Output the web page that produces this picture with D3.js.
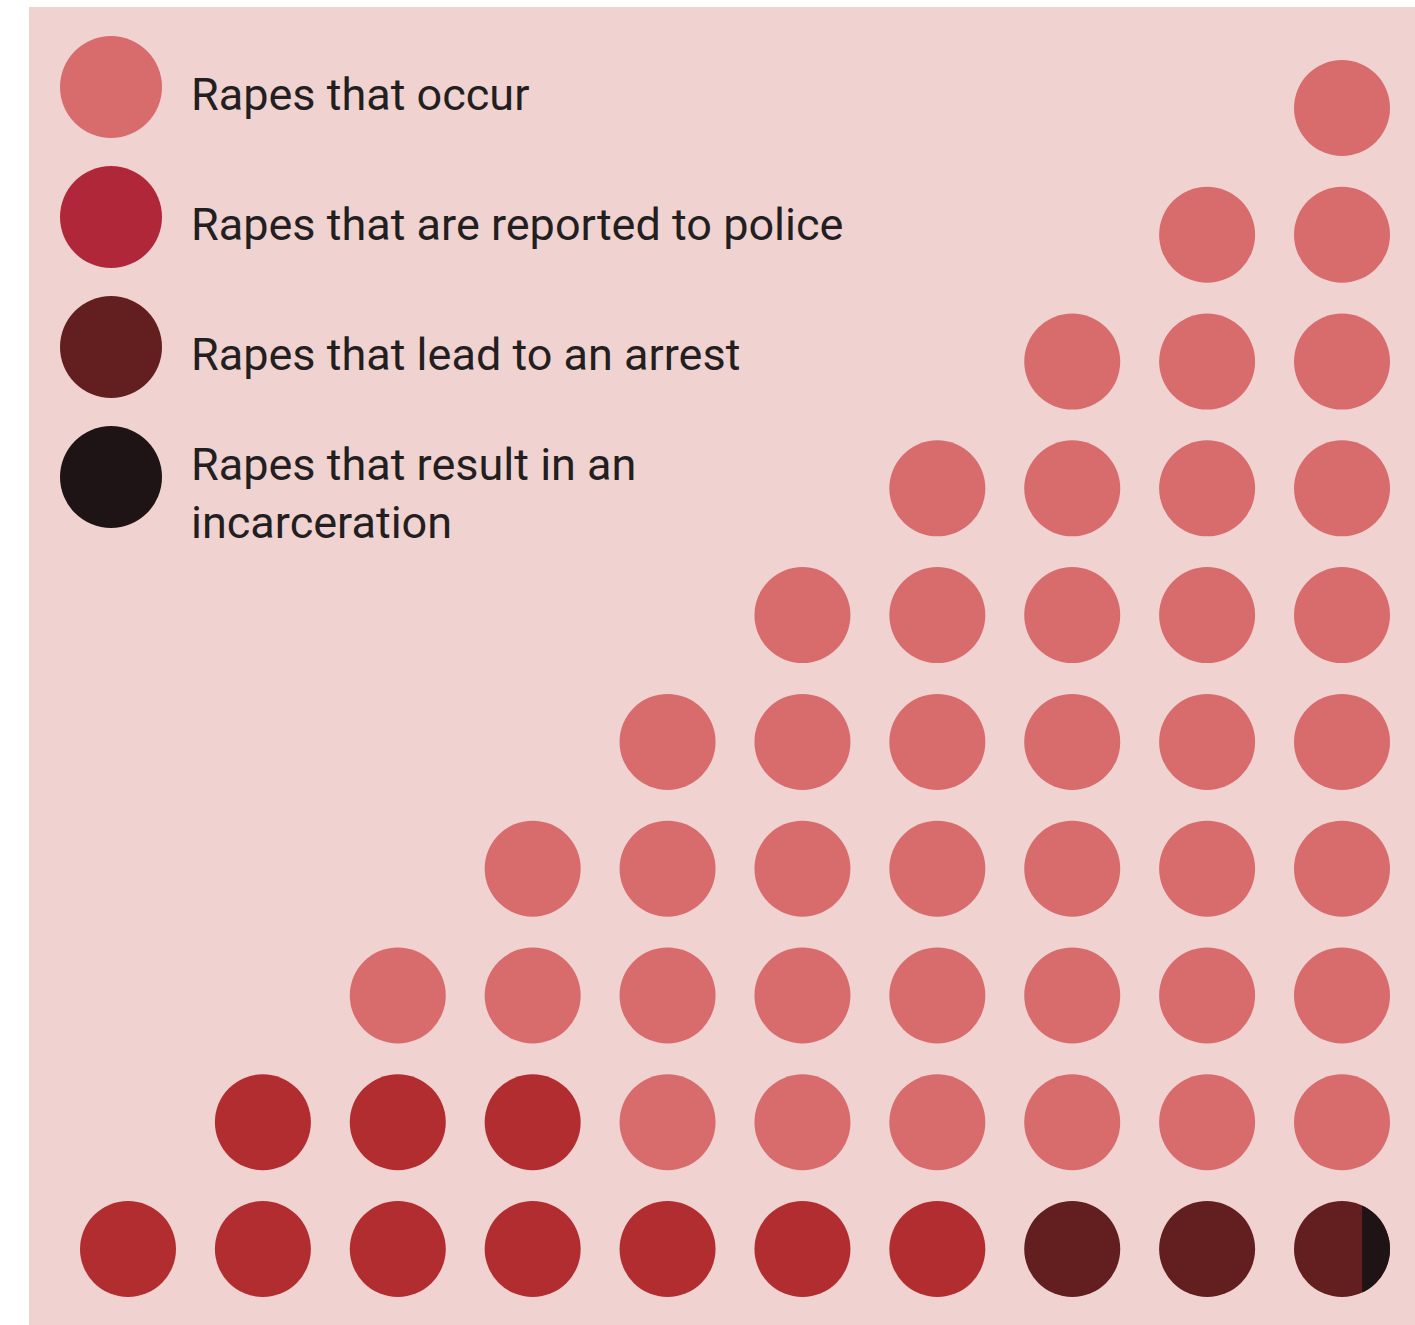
<!DOCTYPE html>
<html>
<head>
<meta charset="utf-8">
<script src="https://cdn.jsdelivr.net/npm/d3@7"></script>
<style>
  body { margin: 0; background: #fff; }
  text { font-family: Roboto, "Liberation Sans", sans-serif; fill: #231f20; }
</style>
</head>
<body>
<svg id="chart" width="1415" height="1325"></svg>
<script>
// legend labels (one line per array entry)
const categories = [
  ["Rapes that occur"],
  ["Rapes that are reported to police"],
  ["Rapes that lead to an arrest"],
  ["Rapes that result in an", "incarceration"]
];
const colors = ["#d86b6c", "#b22d30", "#631f20", "#1e1416"];
const legendColors = ["#d86b6c", "#af2738", "#631f20", "#1e1416"];

// number of dots stacked in each column, left to right
const columnCounts = [1, 2, 3, 4, 5, 6, 7, 8, 9, 10];
// nested counts, in dots
const reported = 13;
const arrested = 3;
const incarcerated = 0.29; // share of the last dot's width

const width = 1415, height = 1325;
const svg = d3.select("#chart");

svg.append("rect")
  .attr("x", 29).attr("y", 7)
  .attr("width", width - 29).attr("height", height - 7)
  .attr("fill", "#f0d2d1");

const x = d3.scaleLinear().domain([0, columnCounts.length - 1]).range([128, 1342]);
const y = d3.scaleLinear().domain([0, d3.max(columnCounts) - 1]).range([1249, 108]);
const r = 48;

// build dots, ordered row by row from the bottom
let dots = [];
columnCounts.forEach((n, c) => {
  d3.range(n).forEach(row => dots.push({ c, row }));
});
dots.sort((a, b) => a.row - b.row || a.c - b.c);
const rowLen = columnCounts.length;
dots.forEach((d, i) => {
  if (d.row === 0 && d.c >= rowLen - arrested) d.cat = 2;
  else if (i < reported) d.cat = 1;
  else d.cat = 0;
});

svg.append("g")
  .selectAll("circle")
  .data(dots)
  .join("circle")
  .attr("cx", d => x(d.c))
  .attr("cy", d => y(d.row))
  .attr("r", r)
  .attr("fill", d => colors[d.cat]);

// incarceration slice on the last dot of the bottom row
const last = dots.find(d => d.row === 0 && d.c === rowLen - 1);
svg.append("clipPath").attr("id", "lastDot")
  .append("circle")
  .attr("cx", x(last.c)).attr("cy", y(last.row)).attr("r", r);
svg.append("rect")
  .attr("clip-path", "url(#lastDot)")
  .attr("x", x(last.c) + r - incarcerated * 2 * r)
  .attr("y", y(last.row) - r)
  .attr("width", incarcerated * 2 * r)
  .attr("height", 2 * r)
  .attr("fill", colors[3]);

// legend
const ly = d3.scaleLinear().domain([0, 1]).range([87, 217]);
const legend = svg.append("g")
  .selectAll("g")
  .data(categories)
  .join("g")
  .attr("transform", (d, i) => `translate(111,${ly(i)})`);

legend.append("circle")
  .attr("r", 51)
  .attr("fill", (d, i) => legendColors[i]);

legend.append("text")
  .attr("x", 80)
  .attr("y", d => 23 - (d.length - 1) * 20)
  .style("font-size", "45px")
  .selectAll("tspan")
  .data(d => d)
  .join("tspan")
  .attr("x", 80)
  .attr("dy", (d, i) => i === 0 ? 0 : 58)
  .text(d => d);
</script>
</body>
</html>
